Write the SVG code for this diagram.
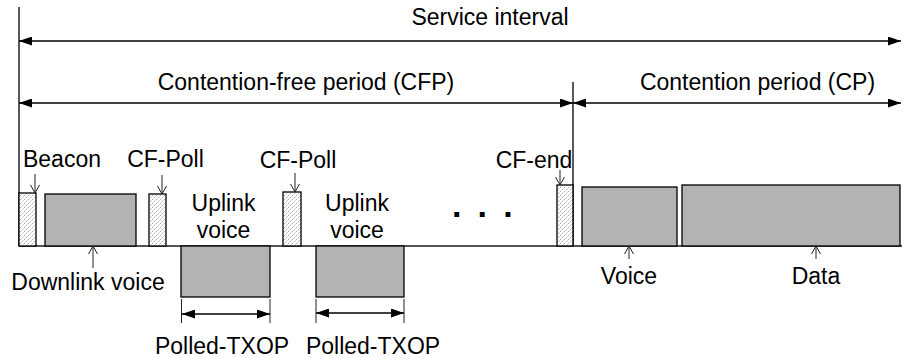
<svg xmlns="http://www.w3.org/2000/svg" width="902" height="358" viewBox="0 0 902 358">
  <style>
    text { font-family: "Liberation Sans", Arial, sans-serif; font-size: 23px; fill: #000; text-anchor: middle; }
    .dots { font-weight: bold; font-size: 34px; text-anchor: start; }
    .line { stroke: #000; stroke-width: 1.3; fill: none; }
    .thin { stroke: #222; stroke-width: 1; fill: none; }
    .frame { fill: #b3b3b3; stroke: #000; stroke-width: 1.3; }
    .ctrl { fill: url(#hatch); stroke: #000; stroke-width: 1.3; }
    .axis { stroke: #555; stroke-width: 2; fill: none; }
    .span { stroke: #000; stroke-width: 1.3; fill: none; marker-start: url(#head); marker-end: url(#head); }
    .pointer { stroke: #222; stroke-width: 1; fill: none; marker-end: url(#open); }
  </style>
  <defs>
    <pattern id="hatch" patternUnits="userSpaceOnUse" width="4" height="4">
      <rect width="4" height="4" fill="#fff"/>
      <path d="M0,4 L4,0" stroke="#8a8a8a" stroke-width="0.7" stroke-dasharray="2,1"/>
    </pattern>
    <marker id="head" markerUnits="userSpaceOnUse" markerWidth="13" markerHeight="9" refX="13" refY="4.5" orient="auto-start-reverse">
      <path d="M0,0 L13,4.5 L0,9 z" fill="#000"/>
    </marker>
    <marker id="open" markerUnits="userSpaceOnUse" markerWidth="10" markerHeight="10" refX="8" refY="5" orient="auto">
      <path d="M0,0.5 L8,5 L0,9.5" fill="none" stroke="#222" stroke-width="1"/>
    </marker>
  </defs>

  <!-- time axis and period boundaries -->
  <g id="axis">
    <path class="axis" d="M19,246 H902"/>
    <path class="line" d="M19,7 V246"/>
    <path class="line" d="M573,82 V246"/>
  </g>

  <!-- frames on the medium -->
  <g id="beacon">
    <rect class="ctrl" x="19" y="193" width="17" height="53"/>
    <text x="62" y="167">Beacon</text>
  </g>
  <g id="downlink-voice">
    <rect class="frame" x="45" y="194" width="91" height="52"/>
    <text x="88" y="290">Downlink voice</text>
  </g>
  <g id="cf-poll-1">
    <rect class="ctrl" x="149" y="194" width="17" height="52"/>
    <text x="165.5" y="167">CF-Poll</text>
  </g>
  <g id="uplink-voice-1">
    <rect class="frame" x="181" y="246" width="89" height="51"/>
    <text x="223.5" y="211">Uplink</text>
    <text x="223.5" y="238">voice</text>
  </g>
  <g id="cf-poll-2">
    <rect class="ctrl" x="283" y="192" width="18" height="54"/>
    <text x="298" y="168">CF-Poll</text>
  </g>
  <g id="uplink-voice-2">
    <rect class="frame" x="316" y="246" width="88" height="51"/>
    <text x="357" y="211">Uplink</text>
    <text x="357" y="238">voice</text>
  </g>
  <g id="ellipsis">
    <text class="dots" x="452 477.6 503.3" y="217">...</text>
  </g>
  <g id="cf-end">
    <rect class="ctrl" x="557" y="185" width="16" height="61"/>
    <text x="534" y="168">CF-end</text>
  </g>
  <g id="voice">
    <rect class="frame" x="582" y="187" width="95" height="59"/>
    <text x="629" y="284">Voice</text>
  </g>
  <g id="data">
    <rect class="frame" x="682" y="185" width="218" height="61"/>
    <text x="816" y="284">Data</text>
  </g>

  <!-- period labels -->
  <g id="service-interval">
    <text x="490" y="25">Service interval</text>
  </g>
  <g id="cfp">
    <text x="306" y="90">Contention-free period (CFP)</text>
  </g>
  <g id="cp">
    <text x="757.5" y="90">Contention period (CP)</text>
  </g>
  <g id="polled-txop-1">
    <text x="222" y="354">Polled-TXOP</text>
  </g>
  <g id="polled-txop-2">
    <text x="373" y="354">Polled-TXOP</text>
  </g>

  <!-- connectors: spans, dimension lines and label pointers -->
  <g id="connectors">
    <path class="span" d="M19,41 H901"/>
    <path class="span" d="M19,103 H573"/>
    <path class="span" d="M573,103 H901"/>

    <path class="thin" d="M181.5,299 V323 M270,299 V323 M316,299 V323 M404,299 V323"/>
    <path class="span" d="M182,314 H270"/>
    <path class="span" d="M316,313 H404"/>

    <path class="pointer" d="M35,174 V193"/>
    <path class="pointer" d="M162,175 V194"/>
    <path class="pointer" d="M295,173 V192"/>
    <path class="pointer" d="M560,170 V185"/>
    <path class="pointer" d="M93,268 V246"/>
    <path class="pointer" d="M629,259 V246"/>
    <path class="pointer" d="M816,259 V246"/>
  </g>
</svg>
